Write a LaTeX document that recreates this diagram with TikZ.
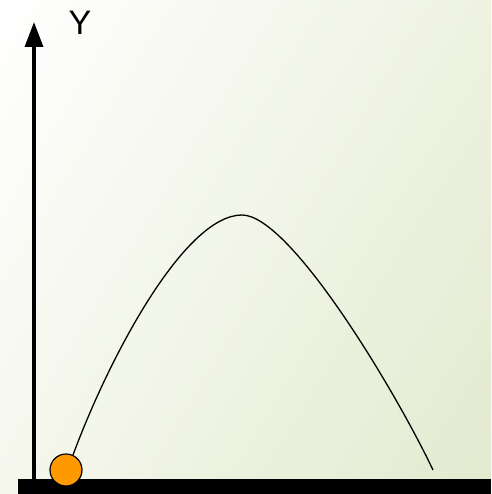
\documentclass[tikz,border=0pt]{standalone}
\usepackage{fontspec}
\setsansfont{Liberation Sans}
\usepackage{tikz}
\usetikzlibrary{arrows.meta}
\usetikzlibrary{shadings}

\definecolor{bgtop}{RGB}{255,255,255}
\definecolor{bgright}{RGB}{238,242,225}
\definecolor{bgleft}{RGB}{245,247,237}
\definecolor{bgcorner}{RGB}{226,234,207}
\definecolor{ballorange}{RGB}{255,153,0}

\begin{document}
\begin{tikzpicture}[
  x=1pt, y=-1pt,
  every node/.style={font=\sffamily},
  axis/.style={line width=3.5pt, -{Triangle[length=25pt, width=18pt]}},
  ground/.style={fill=black, draw=none},
  path/.style={line width=1.3pt, black},
  ball/.style={circle, fill=ballorange, draw=black, line width=1.2pt,
    minimum size=32pt, inner sep=0pt}
]

% ====== BACKGROUND ======
\useasboundingbox (0,0) rectangle (491,494);
\shade[upper left=bgtop, upper right=bgright, lower left=bgleft,
  lower right=bgcorner] (0,0) rectangle (491,494);

% ====== GROUND AND AXIS ======
\fill[ground] (18,479) rectangle (491,494);
\coordinate (origin) at (34,479);
\coordinate (ytip) at (34,22);
\draw[axis] (origin) -- (ytip);
\node[font=\sffamily\fontsize{34}{34}\selectfont, anchor=base, inner sep=0pt]
  (ylabel) at (80,35) {Y};

% ====== TRAJECTORY ======
\coordinate (start) at (73,455);
\coordinate (peak) at (242,215);
\coordinate (land) at (433,470);
\draw[path] (start) .. controls (110,355) and (185,215) .. (peak)
  .. controls (290,215) and (395,390) .. (land);

\node[ball] (projectile) at (66,470) {};

\end{tikzpicture}
\end{document}
